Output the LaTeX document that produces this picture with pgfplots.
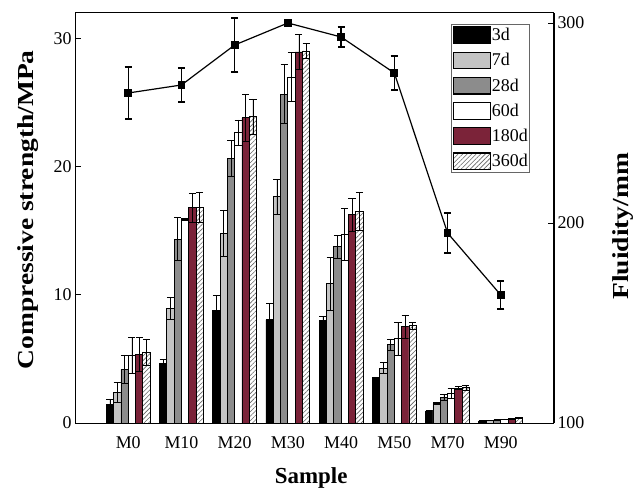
\documentclass[border=0pt]{standalone}
\usepackage{fontspec}
\setmainfont{Liberation Serif}
\usepackage{graphicx}
\usepackage{pgfplots}
\usepackage{pgfplotstable}
\pgfplotsset{compat=1.18}
\usetikzlibrary{patterns.meta}

\definecolor{lightbar}{HTML}{C4C4C4}
\definecolor{midbar}{HTML}{8C8C8C}
\definecolor{wine}{HTML}{7B2339}

% compressive strength (MPa) with standard deviations, and fluidity (mm)
\pgfplotstableread{
x  s3    e3    s7    e7    s28   e28   s60   e60   s180  e180  s360  e360  flu  eflu
0  1.43  0.45  2.39  0.80  4.21  1.10  5.25  1.40  5.35  1.30  5.50  1.00  265  13
1  4.68  0.30  8.96  0.85  14.36 1.70  15.90 0.10  16.80 1.10  16.83 1.20  269  8.5
2  8.78  1.20  14.80 1.80  20.65 1.40  22.65 1.00  23.82 1.80  23.90 1.40  289  13.5
3  8.05  1.30  17.66 1.35  25.66 2.30  27.00 1.90  28.96 1.35  29.04 0.57  300  1
4  8.00  0.35  10.86 2.05  13.77 0.90  14.73 2.00  16.26 1.27  16.52 1.50  293  5
5  3.45  0.10  4.29  0.44  6.10  0.40  6.57  1.27  7.53  0.90  7.58  0.26  275  8.5
6  0.91  0.05  1.56  0.08  2.00  0.26  2.34  0.40  2.73  0.10  2.78  0.20  195  10
7  0.16  0.02  0.21  0.02  0.23  0.02  0.29  0.03  0.34  0.03  0.42  0.03  164  7
}\data

\pgfplotsset{
  common/.style={
    at={(75bp,67bp)}, anchor=south west,
    scale only axis, width=479bp, height=410bp,
    xmin=-1, xmax=8,
    axis line style={line width=1bp},
    tick align=inside, major tick length=6bp,
    every tick/.style={black, line width=0.8bp},
    ticklabel style={font=\fontsize{18}{18}\selectfont},
    /pgf/number format/assume math mode=true,
    label style={font=\fontsize{23}{23}\selectfont\bfseries},
  },
  errs/.style={
    error bars/.cd, y dir=both, y explicit,
    error bar style={line width=0.6bp, black},
    error mark options={rotate=90, mark size=3.6bp, line width=0.6bp, black},
  },
  barleg/.style={
    legend image code/.code={\draw[##1, line width=1.3bp] (0bp,-8.3bp) rectangle (37bp,8.3bp);},
  },
}

\begin{document}
\begin{tikzpicture}
\useasboundingbox (0,0) rectangle (638bp,490bp);
\begin{axis}[
  common,
  ymin=0, ymax=32,
  ytick={0,10,20,30}, ytick pos=left,
  xtick={0,...,7}, xticklabels={M0,M10,M20,M30,M40,M50,M70,M90},
  xtick style={draw=none},
  xticklabel style={yshift=-4bp},
  ybar=0pt, bar width=7.3bp,
  every axis plot/.append style={draw=black, line width=0.8bp},
  xlabel={Sample},
  xlabel style={at={(axis description cs:0.493,-0.134)}, anchor=center},
  ylabel={\scalebox{1.2}[1]{Compressive strength/MPa}},
  ylabel style={at={(axis description cs:-0.097,0.52)}, anchor=center},
  legend style={
    at={(0.95,0.973)}, anchor=north east,
    draw=black!60, line width=0.6bp,
    font=\fontsize{18}{18}\selectfont,
    inner xsep=1bp, inner ysep=2bp,
    row sep=7.3bp,
    nodes={inner sep=1bp},
    /tikz/every even column/.append style={column sep=2bp},
  },
  legend cell align=left,
]
\addplot[fill=black, barleg, errs] table[x=x, y=s3, y error=e3]{\data};
\addplot[fill=lightbar, barleg, errs] table[x=x, y=s7, y error=e7]{\data};
\addplot[fill=midbar, barleg, errs] table[x=x, y=s28, y error=e28]{\data};
\addplot[fill=white, barleg, errs] table[x=x, y=s60, y error=e60]{\data};
\addplot[fill=wine, barleg, errs] table[x=x, y=s180, y error=e180]{\data};
\addplot[fill=white,
  postaction={pattern={Lines[angle=45, distance=3.2bp, line width=0.6bp]}, pattern color=black!60},
  barleg, errs] table[x=x, y=s360, y error=e360]{\data};
\legend{3d,7d,28d,60d,180d,360d}
\end{axis}

\begin{axis}[
  common,
  ymin=100, ymax=305,
  axis x line=none, axis y line*=right,
  ytick={100,200,300},
  ylabel={\scalebox{1.2}[1]{Fluidity/mm}},
  ylabel style={at={(axis description cs:1.144,0.48)}, anchor=center},
]
\addplot[black, line width=1.2bp, mark=square*, mark size=3.3bp,
  error bars/.cd, y dir=both, y explicit,
  error bar style={line width=1.3bp},
  error mark options={rotate=90, mark size=3.6bp, line width=1.3bp}]
  table[x=x, y=flu, y error=eflu]{\data};
\end{axis}
\end{tikzpicture}
\end{document}
